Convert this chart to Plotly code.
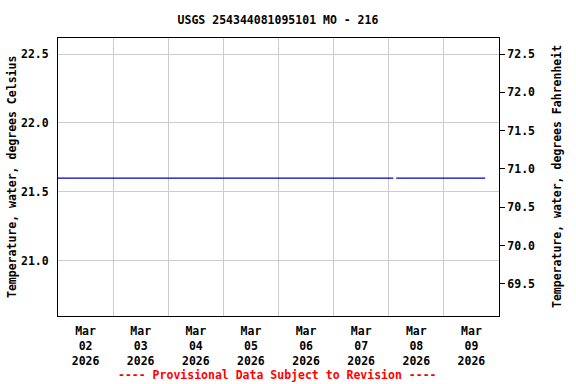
import plotly.graph_objects as go

# Data
times = ["2026-03-02 00:00", "2026-03-03 00:00", "2026-03-04 00:00", "2026-03-05 00:00",
         "2026-03-06 00:00", "2026-03-07 00:00", "2026-03-08 00:00", "2026-03-08 02:00",
         "2026-03-08 02:30",
         "2026-03-08 03:15", "2026-03-09 00:00", "2026-03-09 18:00"]
temps_c = [21.6, 21.6, 21.6, 21.6, 21.6, 21.6, 21.6, 21.6,
           None,
           21.6, 21.6, 21.6]

day_labels = ["Mar<br>02<br>2026", "Mar<br>03<br>2026", "Mar<br>04<br>2026", "Mar<br>05<br>2026",
              "Mar<br>06<br>2026", "Mar<br>07<br>2026", "Mar<br>08<br>2026", "Mar<br>09<br>2026"]
label_pos = ["2026-03-02 12:00", "2026-03-03 12:00", "2026-03-04 12:00", "2026-03-05 12:00",
             "2026-03-06 12:00", "2026-03-07 12:00", "2026-03-08 12:00", "2026-03-09 12:00"]
grid_pos = ["2026-03-03", "2026-03-04", "2026-03-05", "2026-03-06",
            "2026-03-07", "2026-03-08", "2026-03-09"]

c_ticks = [21.0, 21.5, 22.0, 22.5]
f_ticks = [69.5, 70.0, 70.5, 71.0, 71.5, 72.0, 72.5]

y_range_c = [20.6, 22.616]
y_range_f = [v * 9 / 5 + 32 for v in y_range_c]

FONT = "DejaVu Sans Mono"
FS = 11.5
L, R, T, B = 58, 77, 38, 68
PW, PH = 576 - L - R, 384 - T - B

fig = go.Figure()
fig.add_trace(go.Scatter(x=times, y=temps_c, mode="lines",
                         line=dict(color="#0000C0", width=1.2),
                         connectgaps=False, showlegend=False, hoverinfo="skip"))
fig.add_trace(go.Scatter(x=[times[0]], y=[None], yaxis="y2", showlegend=False, hoverinfo="skip"))

fig.update_layout(
    width=576, height=384,
    margin=dict(l=L, r=R, t=T, b=B, autoexpand=False),
    paper_bgcolor="white", plot_bgcolor="white",
    font=dict(family=FONT, size=FS, color="black"),
    title=dict(text="<b>USGS 254344081095101 MO - 216</b>", x=(278 - 0) / 576, xanchor="center",
               y=1 - 20 / 384, yanchor="middle", font=dict(family=FONT, size=FS)),
    xaxis=dict(
        type="date", range=["2026-03-02", "2026-03-10"], automargin=False,
        tickmode="array", tickvals=label_pos,
        ticktext=["<b>" + t.replace("<br>", "</b><br><b>") + "</b>" for t in day_labels],
        showgrid=False, ticks="outside", ticklen=4, tickcolor="rgba(0,0,0,0)",
        tickfont=dict(family=FONT, size=FS),
        showline=True, linecolor="black", linewidth=1, mirror=True,
        minor=dict(tickmode="array", tickvals=grid_pos, showgrid=True,
                   gridcolor="#cccccc", gridwidth=1, ticks=""),
        zeroline=False,
    ),
    yaxis=dict(
        range=y_range_c, tickmode="array", tickvals=c_ticks, automargin=False,
        ticktext=["<b>%.1f</b>" % v for v in c_ticks],
        showgrid=True, gridcolor="#cccccc", gridwidth=1,
        ticks="outside", ticklen=6, tickcolor="rgba(0,0,0,0)",
        showline=True, linecolor="black", linewidth=1, mirror=True,
        zeroline=False, tickfont=dict(family=FONT, size=FS),
    ),
    yaxis2=dict(
        range=y_range_f, overlaying="y", side="right", automargin=False,
        tickmode="array", tickvals=f_ticks,
        ticktext=["<b>%.1f</b>" % v for v in f_ticks],
        showgrid=False, ticks="outside", ticklen=5, tickcolor="black",
        showline=True, linecolor="black", linewidth=1,
        zeroline=False, tickfont=dict(family=FONT, size=FS),
    ),
    annotations=[
        dict(text="<b>---- Provisional Data Subject to Revision ----</b>",
             x=(277 - L) / PW, xref="paper", xanchor="center",
             y=-(375 - (T + PH)) / PH, yref="paper", yanchor="middle",
             showarrow=False, font=dict(family=FONT, size=FS, color="red")),
        dict(text="<b>Temperature, water, degrees Celsius</b>", textangle=-90,
             x=-(L - 12) / PW, xref="paper", xanchor="center",
             y=(384 - 177 - B) / PH, yref="paper", yanchor="middle",
             showarrow=False, font=dict(family=FONT, size=FS)),
        dict(text="<b>Temperature, water, degrees Fahrenheit</b>", textangle=-90,
             x=1 + (557 - (L + PW)) / PW, xref="paper", xanchor="center",
             y=(384 - 177 - B) / PH, yref="paper", yanchor="middle",
             showarrow=False, font=dict(family=FONT, size=FS)),
    ],
)

fig.write_html("out.html", config={"displayModeBar": False},
               post_script="document.body.style.margin='0px';")
